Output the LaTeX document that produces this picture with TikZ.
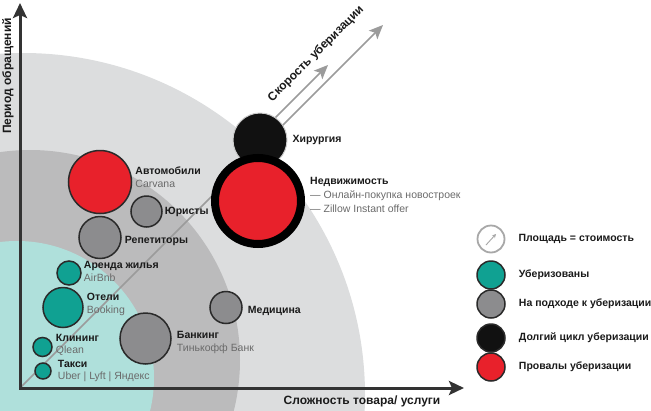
\documentclass[tikz,border=0pt]{standalone}
\usepackage{fontspec}
\setmainfont{Liberation Sans}
\usetikzlibrary{positioning,arrows.meta}

\definecolor{bgouter}{HTML}{DCDDDE}
\definecolor{bgmid}{HTML}{BBBBBC}
\definecolor{bgteal}{HTML}{AFE0DB}
\definecolor{uberteal}{HTML}{10A192}
\definecolor{circgrey}{HTML}{8C8C8E}
\definecolor{failred}{HTML}{E8212B}
\definecolor{nearblack}{HTML}{111111}
\definecolor{edge}{HTML}{2A2A2A}
\definecolor{diaggrey}{HTML}{9B9B9B}
\definecolor{axisdark}{HTML}{333333}
\definecolor{labeltext}{HTML}{1A1A1A}
\definecolor{subgrey}{HTML}{6A6A6A}
\definecolor{legring}{HTML}{A8A8A8}

\newcommand\sublbl[1]{{\mdseries\color{subgrey}#1}}

\begin{document}
\begin{tikzpicture}[x=1pt,y=-1pt,
uber/.style={circle, draw=edge, line width=1.5pt, fill=uberteal, inner sep=0pt},
almost/.style={circle, draw=edge, line width=1.5pt, fill=circgrey, inner sep=0pt},
slow/.style={circle, draw=edge, line width=1.5pt, fill=nearblack, inner sep=0pt},
fail/.style={circle, draw=edge, line width=1.5pt, fill=failred, inner sep=0pt},
ring/.style={circle, draw=legring, line width=1.8pt, fill=white, inner sep=0pt, minimum size=27pt},
lbl/.style={font=\fontsize{10.5}{12.5}\selectfont\bfseries, text=labeltext, align=left, inner sep=0pt},
axlbl/.style={font=\fontsize{12}{14}\selectfont\bfseries, text=labeltext, inner sep=0pt},
axis/.style={line width=3pt, draw=axisdark, {Stealth[length=15pt,width=14pt,inset=3pt]}-{Stealth[length=15pt,width=14pt,inset=3pt]}},
diag/.style={line width=1.5pt, draw=diaggrey, -{Stealth[length=14pt,width=12pt,inset=3pt]}},
]
\useasboundingbox (0,0) rectangle (651,410);
\clip (0,0) rectangle (651,410);

% zones
\fill[bgouter] (23,395) circle[radius=342pt];
\fill[bgmid] (30,360) circle[radius=210pt];
\fill[bgteal] (17,378) circle[radius=137pt];

\coordinate (o) at (20,388);
\coordinate (ytip) at (20,3);
\coordinate (xtip) at (464,388);
\coordinate (v1s) at (275,118);
\coordinate (v1e) at (328,65);
\coordinate (v2e) at (383,25);

\path
(o) edge[diag] (v2e)
(v1s) edge[diag] (v1e)
;
\draw[axis] (ytip) -- (o) -- (xtip);

% markets
\node[slow, draw=black!20, line width=1pt, minimum size=54pt] (surgery) at (260,140) {};
\node[circle, draw=black, line width=8pt, fill=failred, inner sep=0pt, minimum size=86pt] (estate) at (258,201) {};
\node[fail, minimum size=63pt] (cars) at (100,182) {};
\node[almost, minimum size=31pt] (lawyers) at (146.5,211.5) {};
\node[almost, minimum size=42pt] (tutors) at (100,237.5) {};
\node[uber, minimum size=24pt] (rent) at (69,273) {};
\node[uber, minimum size=40pt] (hotels) at (63,307.5) {};
\node[uber, minimum size=19pt] (clean) at (42.5,347) {};
\node[uber, minimum size=16pt] (taxi) at (43,371) {};
\node[almost, minimum size=51pt] (bank) at (145.5,338.5) {};
\node[almost, minimum size=32pt] (medic) at (226,307.5) {};

\node[lbl, right=5pt of surgery] (surgerylbl) {Хирургия};
\node[lbl, font=\fontsize{10.5}{14}\selectfont\bfseries, right=5pt of estate, yshift=6pt] (estatelbl) {Недвижимость\\\sublbl{— Онлайн-покупка новостроек}\\\sublbl{— Zillow Instant offer}};
\node[lbl, right=3pt of cars, yshift=5pt] (carslbl) {Автомобили\\\sublbl{Carvana}};
\node[lbl, right=2pt of lawyers] (lawyerslbl) {Юристы};
\node[lbl, right=3pt of tutors, yshift=-3pt] (tutorslbl) {Репетиторы};
\node[lbl, right=2pt of rent, yshift=1.5pt] (rentlbl) {Аренда жилья\\\sublbl{AirBnb}};
\node[lbl, right=3pt of hotels, yshift=3pt] (hotelslbl) {Отели\\\sublbl{Booking}};
\node[lbl, right=3pt of clean, yshift=2pt] (cleanlbl) {Клининг\\\sublbl{Qlean}};
\node[lbl, right=6pt of taxi] (taxilbl) {Такси\\\sublbl{Uber | Lyft | Яндекс}};
\node[lbl, right=5pt of bank, yshift=-4pt] (banklbl) {Банкинг\\\sublbl{Тинькофф Банк}};
\node[lbl, right=5pt of medic, yshift=-3.5pt] (mediclbl) {Медицина};

% axes
\node[axlbl, rotate=90] (ylbl) at (8,76) {Период обращений};
\node[axlbl] (xlbl) at (362,401) {Сложность товара/ услуги};
\node[axlbl, rotate=45] (vlbl) at (316,54) {Скорость уберизации};

% legend
\node[ring] (lg1) at (491,239) {};
\node[uber, minimum size=28pt] (lg2) at (491,275) {};
\node[almost, minimum size=28pt] (lg3) at (491,304) {};
\node[slow, minimum size=28pt] (lg4) at (491,338) {};
\node[fail, minimum size=28pt] (lg5) at (491,367) {};
\coordinate (la) at (486,245);
\coordinate (lb) at (496,234);
\path (la) edge[draw=legring, line width=0.9pt, -{Stealth[length=4pt,width=4pt]}] (lb);

\node[lbl, right=13pt of lg1] (lt1) {Площадь = стоимость};
\node[lbl, right=13pt of lg2] (lt2) {Уберизованы};
\node[lbl, right=13pt of lg3] (lt3) {На подходе к уберизации};
\node[lbl, right=13pt of lg4] (lt4) {Долгий цикл уберизации};
\node[lbl, right=13pt of lg5] (lt5) {Провалы уберизации};
\end{tikzpicture}
\end{document}
